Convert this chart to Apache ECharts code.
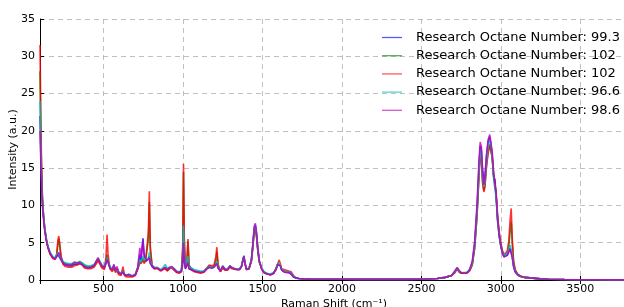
<!DOCTYPE html>
<html>
<head>
<meta charset="utf-8">
<script src="https://cdn.jsdelivr.net/npm/echarts@6/dist/echarts.min.js"></script>
<style>
  html, body { margin: 0; padding: 0; background: #fff; }
  #chart { width: 624px; height: 307px; }
</style>
</head>
<body>
<div id="chart"></div>
<script>
// Raman shift (cm-1), shared by every spectrum
const ramanShift = [
  100, 105, 110, 115, 120, 130, 140, 150, 165, 180,
  195, 205, 212, 218, 224, 232, 245, 260, 280, 300,
  315, 325, 335, 350, 365, 380, 400, 420, 440, 455,
  465, 475, 490, 505, 515, 522, 528, 540, 555, 565,
  575, 585, 595, 610, 622, 632, 645, 660, 680, 700,
  715, 728, 736, 742, 748, 755, 765, 775, 782, 788,
  794, 805, 820, 840, 860, 875, 888, 900, 915, 930,
  945, 960, 975, 990, 998, 1003, 1008, 1015, 1024, 1031,
  1038, 1050, 1070, 1090, 1110, 1130, 1150, 1165, 1180, 1195,
  1207, 1213, 1220, 1235, 1250, 1265, 1280, 1295, 1310, 1325,
  1340, 1355, 1368, 1376, 1383, 1390, 1400, 1415, 1430, 1440,
  1448, 1455, 1462, 1470, 1480, 1495, 1510, 1530, 1550, 1570,
  1585, 1597, 1605, 1612, 1620, 1635, 1650, 1665, 1680, 1695,
  1710, 1730, 1760, 1800, 1900, 2000, 2100, 2200, 2300, 2400,
  2500, 2600, 2650, 2690, 2710, 2725, 2737, 2750, 2760, 2775,
  2790, 2805, 2820, 2835, 2850, 2862, 2870, 2878, 2885, 2893,
  2900, 2910, 2920, 2930, 2937, 2945, 2955, 2963, 2970, 2980,
  2990, 3000, 3010, 3020, 3030, 3040, 3050, 3058, 3065, 3072,
  3080, 3090, 3105, 3120, 3150, 3200, 3250, 3300, 3400, 3500,
  3600, 3700, 3800
]

const ron99_3 = [
  22, 17, 13, 10.5, 8.8, 6.8, 5.4, 4.4, 3.5, 3.0,
  2.8, 3.0, 3.4, 3.6, 3.3, 2.7, 2.2, 2.0, 1.9, 1.9,
  2.1, 2.3, 2.1, 2.2, 2.1, 1.8, 1.6, 1.7, 1.9, 2.4,
  2.8, 2.4, 1.8, 1.6, 2.2, 2.8, 2.4, 1.6, 1.3, 1.9,
  1.2, 1.5, 0.9, 0.8, 1.1, 0.7, 0.6, 0.6, 0.5, 0.7,
  1.5, 3.4, 2.6, 4.2, 5.6, 3.5, 2.5, 2.4, 2.8, 3.2,
  2.3, 1.8, 1.5, 1.6, 1.3, 1.5, 1.6, 1.3, 1.6, 1.7,
  1.4, 1.1, 1.0, 1.2, 2.5, 4.5, 2.5, 1.5, 1.7, 2.3,
  1.5, 1.6, 1.2, 1.1, 1.0, 1.1, 1.5, 1.7, 1.6, 1.7,
  1.9, 2.3, 1.6, 1.2, 1.8, 1.4, 1.4, 1.9, 1.6, 1.5,
  1.4, 1.4, 1.8, 2.6, 3.2, 2.2, 1.4, 1.5, 2.6, 4.8,
  6.9, 7.3, 6.3, 4.3, 2.5, 1.5, 1.0, 0.8, 0.7, 0.9,
  1.4, 2.1, 2.0, 1.9, 1.4, 1.1, 1.0, 1.0, 0.8, 0.4,
  0.25, 0.2, 0.15, 0.12, 0.1, 0.1, 0.08, 0.08, 0.08, 0.08,
  0.1, 0.2, 0.35, 0.6, 1.1, 1.6, 1.2, 0.9, 1.1, 0.9,
  1.0, 1.4, 2.3, 4.8, 9.5, 15.0, 18.0, 17.2, 14.8, 13.4,
  14.0, 16.8, 18.6, 19.2, 19.0, 17.0, 13.8, 13.5, 11.2, 7.8,
  5.8, 4.5, 3.6, 3.1, 3.0, 3.3, 3.8, 4.2, 4.3, 3.0,
  1.8, 1.1, 0.7, 0.5, 0.35, 0.25, 0.15, 0.1, 0.06, 0.04,
  0.03, 0.02, 0.02
]

const ron102a = [
  28, 20, 14.5, 11, 9.2, 6.8, 5.4, 4.4, 3.5, 3.0,
  2.9, 3.3, 4.6, 5.6, 4.6, 3.2, 2.4, 2.2, 2.1, 2.1,
  2.2, 2.3, 2.3, 2.5, 2.3, 2.0, 1.8, 1.8, 2.0, 2.5,
  2.8, 2.4, 1.9, 1.7, 2.6, 3.4, 2.6, 1.7, 1.4, 1.8,
  1.3, 1.5, 1.0, 0.8, 1.3, 0.7, 0.6, 0.6, 0.5, 0.7,
  1.6, 2.6, 2.2, 2.6, 3.0, 2.4, 2.7, 2.6, 5.5, 10.5,
  4.0, 2.0, 1.6, 1.6, 1.3, 1.5, 1.6, 1.3, 1.6, 1.7,
  1.4, 1.1, 1.0, 1.2, 4.0, 14.5, 5.0, 1.8, 2.2, 5.2,
  2.0, 1.6, 1.2, 1.1, 1.0, 1.1, 1.6, 1.9, 1.8, 1.8,
  2.6, 3.8, 2.0, 1.2, 1.7, 1.4, 1.4, 1.8, 1.6, 1.5,
  1.4, 1.4, 1.8, 2.6, 3.2, 2.2, 1.4, 1.5, 2.5, 4.6,
  6.7, 7.0, 6.0, 4.1, 2.4, 1.5, 1.0, 0.8, 0.7, 0.9,
  1.5, 2.2, 2.4, 2.0, 1.4, 1.2, 1.1, 1.1, 0.9, 0.5,
  0.3, 0.2, 0.15, 0.12, 0.1, 0.1, 0.08, 0.08, 0.08, 0.08,
  0.1, 0.2, 0.35, 0.6, 1.0, 1.5, 1.1, 0.9, 1.0, 0.9,
  1.0, 1.3, 2.1, 4.3, 8.8, 14.0, 17.3, 16.0, 13.2, 12.0,
  12.8, 15.5, 17.3, 18.2, 18.0, 16.5, 13.8, 13.8, 11.5, 8.2,
  6.2, 4.8, 3.8, 3.3, 3.2, 3.6, 4.5, 6.5, 7.8, 4.8,
  2.4, 1.3, 0.8, 0.55, 0.35, 0.25, 0.15, 0.1, 0.06, 0.04,
  0.03, 0.02, 0.02
]

const ron102b = [
  31.5, 22, 15.5, 11.5, 9.4, 6.8, 5.3, 4.3, 3.4, 2.9,
  2.8, 3.5, 5.2, 5.9, 4.9, 3.2, 2.1, 1.8, 1.7, 1.7,
  1.9, 2.1, 2.0, 2.2, 2.0, 1.6, 1.5, 1.5, 1.7, 2.2,
  2.6, 2.2, 1.6, 1.4, 3.0, 6.1, 3.5, 1.5, 1.1, 1.6,
  1.0, 1.3, 0.7, 0.6, 1.8, 0.6, 0.4, 0.4, 0.4, 0.6,
  1.4, 2.2, 2.0, 2.4, 2.8, 2.2, 2.6, 2.4, 6.5, 11.9,
  4.5, 2.0, 1.5, 1.5, 1.2, 1.4, 1.5, 1.2, 1.5, 1.6,
  1.3, 1.0, 0.9, 1.1, 4.5, 15.6, 5.5, 1.8, 2.3, 5.5,
  2.0, 1.5, 1.1, 1.0, 0.9, 1.0, 1.6, 2.0, 1.9, 2.0,
  3.2, 4.4, 2.1, 1.1, 1.6, 1.3, 1.3, 1.7, 1.5, 1.4,
  1.4, 1.4, 1.8, 2.6, 3.1, 2.2, 1.4, 1.5, 2.5, 4.5,
  6.6, 6.9, 5.9, 4.0, 2.4, 1.5, 1.0, 0.8, 0.7, 0.9,
  1.6, 2.2, 2.7, 2.2, 1.5, 1.4, 1.3, 1.2, 1.1, 0.6,
  0.3, 0.2, 0.15, 0.12, 0.1, 0.1, 0.08, 0.08, 0.08, 0.08,
  0.1, 0.2, 0.35, 0.6, 1.0, 1.5, 1.1, 0.9, 1.0, 0.9,
  1.0, 1.3, 2.0, 4.2, 8.5, 13.8, 17.0, 15.8, 13.0, 11.8,
  12.5, 15.3, 17.0, 18.0, 17.8, 16.5, 14.0, 14.0, 11.8, 8.5,
  6.4, 5.0, 3.9, 3.4, 3.3, 3.9, 5.2, 8.0, 9.6, 5.5,
  2.6, 1.4, 0.8, 0.55, 0.35, 0.25, 0.15, 0.1, 0.06, 0.04,
  0.03, 0.02, 0.02
]

const ron96_6 = [
  24, 18, 13.5, 10.8, 9.2, 7.0, 5.6, 4.6, 3.7, 3.2,
  3.0, 3.2, 3.7, 3.9, 3.6, 2.9, 2.5, 2.3, 2.2, 2.2,
  2.3, 2.4, 2.3, 2.4, 2.3, 2.0, 1.9, 1.9, 2.1, 2.6,
  2.9, 2.6, 2.0, 1.8, 2.4, 3.0, 2.6, 1.8, 1.5, 2.0,
  1.4, 1.6, 1.1, 0.9, 1.2, 0.8, 0.7, 0.7, 0.6, 0.8,
  1.7, 2.7, 2.4, 2.8, 3.2, 2.6, 3.0, 2.7, 3.0, 3.7,
  2.6, 2.0, 1.7, 1.7, 1.4, 1.7, 2.1, 1.6, 1.7, 1.6,
  1.5, 1.2, 1.1, 1.3, 3.0, 7.3, 3.5, 1.9, 1.9, 3.2,
  1.8, 1.9, 1.4, 1.3, 1.2, 1.2, 1.6, 1.8, 1.7, 1.7,
  2.1, 2.5, 1.7, 1.3, 1.9, 1.5, 1.5, 1.9, 1.7, 1.5,
  1.5, 1.5, 1.9, 2.7, 3.3, 2.3, 1.5, 1.6, 2.7, 4.9,
  7.0, 7.4, 6.3, 4.3, 2.5, 1.6, 1.1, 0.9, 0.8, 1.0,
  1.5, 2.3, 2.2, 2.0, 1.5, 1.2, 1.1, 1.1, 0.9, 0.5,
  0.3, 0.2, 0.15, 0.12, 0.1, 0.1, 0.08, 0.08, 0.08, 0.08,
  0.1, 0.2, 0.35, 0.6, 1.1, 1.6, 1.2, 1.0, 1.1, 1.0,
  1.1, 1.4, 2.2, 4.5, 9.0, 14.5, 17.5, 16.5, 13.8, 12.5,
  13.2, 16.0, 17.8, 18.8, 18.5, 16.5, 13.5, 13.3, 11.0, 7.8,
  5.9, 4.6, 3.7, 3.3, 3.2, 3.6, 4.2, 4.7, 4.9, 3.4,
  2.0, 1.2, 0.7, 0.5, 0.35, 0.25, 0.15, 0.1, 0.06, 0.04,
  0.03, 0.02, 0.02
]

const ron98_6 = [
  20, 16, 12.5, 10, 8.6, 6.6, 5.3, 4.4, 3.5, 3.0,
  2.8, 3.0, 3.4, 3.7, 3.4, 2.8, 2.3, 2.1, 2.0, 2.0,
  2.4, 2.6, 2.3, 2.3, 2.1, 1.8, 1.6, 1.7, 1.9, 2.6,
  3.0, 2.5, 1.9, 1.7, 2.2, 2.8, 2.4, 1.6, 1.4, 2.1,
  1.3, 1.8, 1.0, 0.8, 1.1, 0.7, 0.6, 0.8, 0.5, 0.7,
  1.7, 4.3, 3.0, 4.2, 5.2, 3.2, 3.2, 2.6, 2.6, 3.0,
  2.2, 1.9, 1.6, 1.6, 1.3, 1.5, 1.7, 1.4, 1.7, 1.8,
  1.5, 1.1, 1.0, 1.2, 2.5, 5.0, 2.8, 1.6, 1.7, 2.3,
  1.5, 1.6, 1.2, 1.1, 1.0, 1.1, 1.5, 1.7, 1.6, 1.7,
  1.8, 2.2, 1.6, 1.2, 1.9, 1.4, 1.4, 1.9, 1.6, 1.5,
  1.4, 1.4, 1.8, 2.6, 3.2, 2.2, 1.4, 1.5, 2.7, 5.0,
  7.2, 7.6, 6.5, 4.4, 2.6, 1.5, 1.0, 0.8, 0.7, 0.9,
  1.4, 2.1, 2.0, 1.9, 1.4, 1.1, 1.0, 1.0, 0.8, 0.4,
  0.25, 0.2, 0.15, 0.12, 0.1, 0.1, 0.08, 0.08, 0.08, 0.08,
  0.1, 0.2, 0.35, 0.6, 1.2, 1.7, 1.3, 1.0, 1.1, 0.9,
  1.0, 1.5, 2.5, 5.2, 10.2, 16.0, 18.5, 17.8, 14.5, 12.8,
  13.6, 16.8, 18.8, 19.5, 19.3, 17.3, 14.2, 14.0, 11.6, 8.0,
  5.9, 4.5, 3.6, 3.1, 3.0, 3.3, 3.8, 4.2, 4.3, 3.0,
  1.8, 1.1, 0.7, 0.5, 0.35, 0.25, 0.15, 0.1, 0.06, 0.04,
  0.03, 0.02, 0.02
]

const seriesNames = [
  'Research Octane Number: 99.3',
  'Research Octane Number: 102',
  'Research Octane Number: 102',
  'Research Octane Number: 96.6',
  'Research Octane Number: 98.6'
]
const seriesValues = [ron99_3, ron102a, ron102b, ron96_6, ron98_6]
const colors = ['#0000ff', '#008000', '#ff0000', '#00bfbf', '#bf00bf']

const font = 'DejaVu Sans'

const myChart = echarts.init(document.getElementById('chart'), null, { renderer: 'canvas' })

const series = seriesValues.map((vals, i) => ({
  // names repeat (102 twice), so the second one gets an invisible suffix
  id: 's' + i,
  name: seriesNames[i] + (i === 2 ? '\u200b' : ''),
  type: 'line',
  symbol: 'none',
  showSymbol: false,
  data: ramanShift.map((x, j) => [x, vals[j]]),
  lineStyle: { width: 1.6, color: colors[i], opacity: 0.8 },
  itemStyle: { color: colors[i] },
  emphasis: { disabled: true }
}))

const gridLine = {
  show: true,
  lineStyle: { color: '#b0b0b0', type: [5, 4], width: 0.8 }
}

let option = {
  animation: false,
  grid: { left: 40, top: 19, width: 588, height: 261, outerBoundsMode: 'none', containLabel: false },
  legend: {
    orient: 'vertical',
    left: 377,
    top: 26,
    itemWidth: 20,
    itemHeight: 14,
    itemGap: 5.2,
    icon: 'path://M0,0 L20,0 L20,1.3 L0,1.3 Z',
    data: series.map((s, i) => ({ name: s.name, itemStyle: { color: colors[i], opacity: 0.65 } })),
    formatter: name => name.replace('\u200b', ''),
    textStyle: { fontFamily: font, fontSize: 13, color: '#000', padding: [0, 0, 0, 9] }
  },
  xAxis: [
    {
      type: 'value',
      min: 100,
      max: 3800,
      splitNumber: 7,
      name: 'Raman Shift (cm\u207b\u00b9)',
      nameLocation: 'middle',
      nameGap: 19,
      nameMoveOverlap: false,
      nameTextStyle: { fontFamily: font, fontSize: 11, color: '#000' },
      axisLine: { show: true, onZero: false, lineStyle: { color: '#000', width: 1 } },
      axisTick: { show: true, inside: true, length: 4, lineStyle: { color: '#000' } },
      axisLabel: {
        fontFamily: font, fontSize: 11, color: '#000', margin: 4,
        showMinLabel: false, showMaxLabel: false,
        formatter: v => String(v)
      },
      splitLine: gridLine
    },
    {
      type: 'value',
      position: 'top',
      min: 100,
      max: 3800,
      splitNumber: 7,
      axisLine: { show: true, lineStyle: { color: '#000', width: 1 } },
      axisTick: { show: true, inside: true, length: 4, lineStyle: { color: '#000' } },
      axisLabel: { show: false },
      splitLine: { show: false }
    }
  ],
  yAxis: {
    type: 'value',
    min: 0,
    max: 35,
    interval: 5,
    name: 'Intensity (a.u.)',
    nameLocation: 'middle',
    nameGap: 21,
    nameMoveOverlap: false,
    nameTextStyle: { fontFamily: font, fontSize: 11, color: '#000' },
    axisLine: { show: true, lineStyle: { color: '#000', width: 1 } },
    axisTick: { show: true, inside: true, length: 4, lineStyle: { color: '#000' } },
    axisLabel: { fontFamily: font, fontSize: 11, color: '#000', margin: 5 },
    splitLine: gridLine
  },
  series: series
}

myChart.setOption(option)
</script>
</body>
</html>
